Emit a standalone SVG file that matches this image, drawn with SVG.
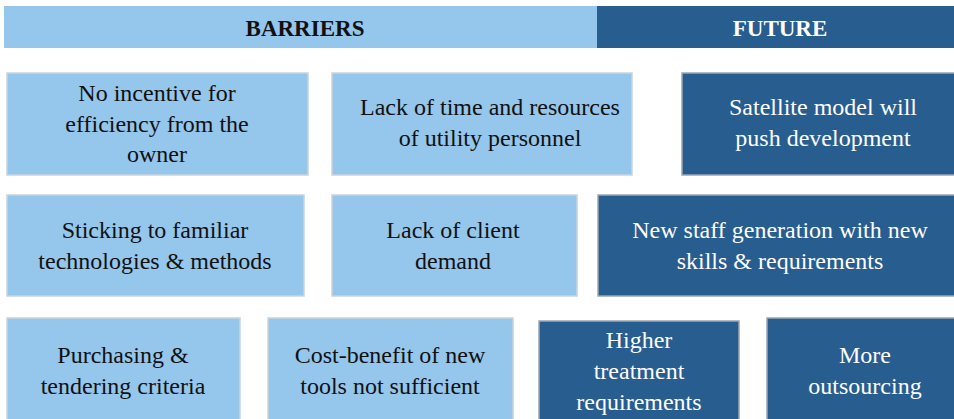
<svg xmlns="http://www.w3.org/2000/svg" width="954" height="419" viewBox="0 0 954 419">
  <style>
    .lt { fill: #95c6ec; stroke: #c9d3dc; stroke-width: 1.5; }
    .dk { fill: #275d8f; stroke: #9aa7b4; stroke-width: 1.5; }
    .tl { fill: #111111; }
    .td { fill: #ffffff; }
  </style>
  <rect width="954" height="419" fill="#ffffff"/>

  <!-- header bar -->
  <g id="header-barriers">
    <rect x="4" y="6" width="593" height="42" fill="#95c6ec"/>
    <text class="tl" x="305" y="36" font-family="Liberation Serif, serif" font-size="23" font-weight="bold" text-anchor="middle">BARRIERS</text>
  </g>
  <g id="header-future">
    <rect x="597" y="6" width="357" height="42" fill="#275d8f"/>
    <text class="td" x="780" y="36" font-family="Liberation Serif, serif" font-size="23" font-weight="bold" text-anchor="middle">FUTURE</text>
  </g>

  <!-- row 1 -->
  <g id="no-incentive">
    <rect class="lt" x="7" y="73" width="301" height="102"/>
    <text class="tl" x="157" y="101" font-family="Liberation Serif, serif" font-size="24" text-anchor="middle">No incentive for</text>
    <text class="tl" x="157" y="132" font-family="Liberation Serif, serif" font-size="24" text-anchor="middle">efficiency from the</text>
    <text class="tl" x="157" y="162" font-family="Liberation Serif, serif" font-size="24" text-anchor="middle">owner</text>
  </g>
  <g id="lack-time">
    <rect class="lt" x="332" y="73" width="300" height="102"/>
    <text class="tl" x="490" y="115" font-family="Liberation Serif, serif" font-size="24" text-anchor="middle">Lack of time and resources</text>
    <text class="tl" x="490" y="146" font-family="Liberation Serif, serif" font-size="24" text-anchor="middle">of utility personnel</text>
  </g>
  <g id="satellite-model">
    <rect class="dk" x="682" y="73" width="280" height="102"/>
    <text class="td" x="823" y="115" font-family="Liberation Serif, serif" font-size="24" text-anchor="middle">Satellite model will</text>
    <text class="td" x="823" y="146" font-family="Liberation Serif, serif" font-size="24" text-anchor="middle">push development</text>
  </g>

  <!-- row 2 -->
  <g id="familiar-tech">
    <rect class="lt" x="7" y="195" width="297" height="101"/>
    <text class="tl" x="155" y="238" font-family="Liberation Serif, serif" font-size="24" text-anchor="middle">Sticking to familiar</text>
    <text class="tl" x="155" y="269" font-family="Liberation Serif, serif" font-size="24" text-anchor="middle">technologies &amp; methods</text>
  </g>
  <g id="client-demand">
    <rect class="lt" x="332" y="195" width="245" height="101"/>
    <text class="tl" x="453" y="238" font-family="Liberation Serif, serif" font-size="24" text-anchor="middle">Lack of client</text>
    <text class="tl" x="453" y="269" font-family="Liberation Serif, serif" font-size="24" text-anchor="middle">demand</text>
  </g>
  <g id="new-staff">
    <rect class="dk" x="598" y="195" width="364" height="101"/>
    <text class="td" x="780" y="238" font-family="Liberation Serif, serif" font-size="24" text-anchor="middle">New staff generation with new</text>
    <text class="td" x="780" y="269" font-family="Liberation Serif, serif" font-size="24" text-anchor="middle">skills &amp; requirements</text>
  </g>

  <!-- row 3 -->
  <g id="purchasing">
    <rect class="lt" x="7" y="318" width="233" height="110"/>
    <text class="tl" x="123" y="363" font-family="Liberation Serif, serif" font-size="24" text-anchor="middle">Purchasing &amp;</text>
    <text class="tl" x="123" y="394" font-family="Liberation Serif, serif" font-size="24" text-anchor="middle">tendering criteria</text>
  </g>
  <g id="cost-benefit">
    <rect class="lt" x="268" y="318" width="245" height="110"/>
    <text class="tl" x="390" y="363" font-family="Liberation Serif, serif" font-size="24" text-anchor="middle">Cost-benefit of new</text>
    <text class="tl" x="390" y="394" font-family="Liberation Serif, serif" font-size="24" text-anchor="middle">tools not sufficient</text>
  </g>
  <g id="higher-treatment">
    <rect class="dk" x="539" y="321" width="200" height="110"/>
    <text class="td" x="639" y="348" font-family="Liberation Serif, serif" font-size="24" text-anchor="middle">Higher</text>
    <text class="td" x="639" y="379" font-family="Liberation Serif, serif" font-size="24" text-anchor="middle">treatment</text>
    <text class="td" x="639" y="410" font-family="Liberation Serif, serif" font-size="24" text-anchor="middle">requirements</text>
  </g>
  <g id="outsourcing">
    <rect class="dk" x="767" y="318" width="200" height="110"/>
    <text class="td" x="865" y="363" font-family="Liberation Serif, serif" font-size="24" text-anchor="middle">More</text>
    <text class="td" x="865" y="394" font-family="Liberation Serif, serif" font-size="24" text-anchor="middle">outsourcing</text>
  </g>

  <!-- no connectors are drawn between the boxes -->
  <g id="connectors"/>
</svg>
